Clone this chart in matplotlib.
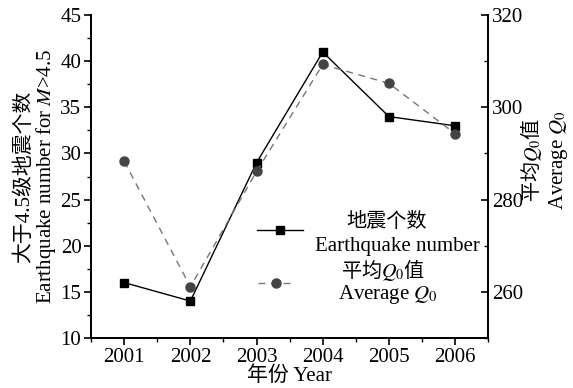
import matplotlib.pyplot as plt
from matplotlib.ticker import MultipleLocator

plt.rcParams['font.family'] = ['Liberation Serif', 'Noto Sans CJK SC']
plt.rcParams['mathtext.fontset'] = 'stix'
plt.rcParams['font.size'] = 15

years = [2001, 2002, 2003, 2004, 2005, 2006]
quake_count = [16, 14, 29, 41, 34, 33]
avg_q0 = [288.3, 261.1, 286.1, 309.3, 305.2, 294.3]

cjk = {'family': 'Noto Sans CJK SC', 'size': 14.5}

fig = plt.figure(figsize=(5.73, 3.88), dpi=100)
ax = fig.add_axes([0.159, 0.129, 0.693, 0.832])
ax2 = ax.twinx()

l1, = ax.plot(years, quake_count, color='black', lw=1, marker='s', ms=6)
l2, = ax2.plot(years, avg_q0, color='#777777', lw=1, ls=(0, (5, 4)),
               marker='o', ms=6.5, mfc='#444444', mec='#444444')

ax.set_xlim(2000.5, 2006.5)
ax.set_ylim(10, 45)
ax2.set_ylim(250, 320)
ax.set_xticks(years)
ax.xaxis.set_minor_locator(MultipleLocator(0.5))
ax.yaxis.set_major_locator(MultipleLocator(5))
ax.yaxis.set_minor_locator(MultipleLocator(2.5))
ax2.yaxis.set_major_locator(MultipleLocator(20))
ax2.yaxis.set_minor_locator(MultipleLocator(10))

for a in (ax, ax2):
    a.spines['top'].set_visible(False)
    for s in a.spines.values():
        s.set_linewidth(1.3)
ax.tick_params(which='major', direction='out', length=5, width=1.2, pad=2)
ax.tick_params(which='minor', direction='out', length=3, width=1)
ax2.tick_params(which='major', direction='in', length=5, width=1.2, pad=3)
ax2.tick_params(which='minor', direction='in', length=3, width=1)

ax.set_xlabel('年份 Year', labelpad=0, fontsize=15)
ax.set_ylabel('大于4.5级地震个数\nEarthquake number for $M$>4.5',
              labelpad=2, linespacing=0.95, fontsize=15)

# right axis label, split so the CJK line gets a CJK default font
ax.text(1.108, 0.551, '平均$Q_0$值', fontdict=cjk, rotation=90,
        ha='center', va='center', transform=ax.transAxes)
ax.text(1.178, 0.551, 'Average $Q_0$', rotation=90,
        ha='center', va='center', transform=ax.transAxes)

# legend handles
leg1 = ax.legend(handles=[l1], labels=[' '], loc='center',
                 bbox_to_anchor=(0.482, 0.328), frameon=False,
                 handlelength=2.2, handletextpad=0, borderpad=0)
ax.add_artist(leg1)
ax.legend(handles=[l2], labels=[' '], loc='center',
          bbox_to_anchor=(0.472, 0.164), frameon=False,
          handlelength=1.7, handletextpad=0, borderpad=0)

# legend texts
ax.text(0.743, 0.362, '地震个数', fontdict=cjk, ha='center', va='center',
        transform=ax.transAxes)
ax.text(0.771, 0.282, 'Earthquake number', ha='center', va='center',
        transform=ax.transAxes)
ax.text(0.736, 0.212, '平均$Q_0$值', fontdict=cjk, ha='center', va='center',
        transform=ax.transAxes)
ax.text(0.748, 0.134, 'Average $Q_0$', ha='center', va='center',
        transform=ax.transAxes)

fig.savefig('out.png', dpi=100)
